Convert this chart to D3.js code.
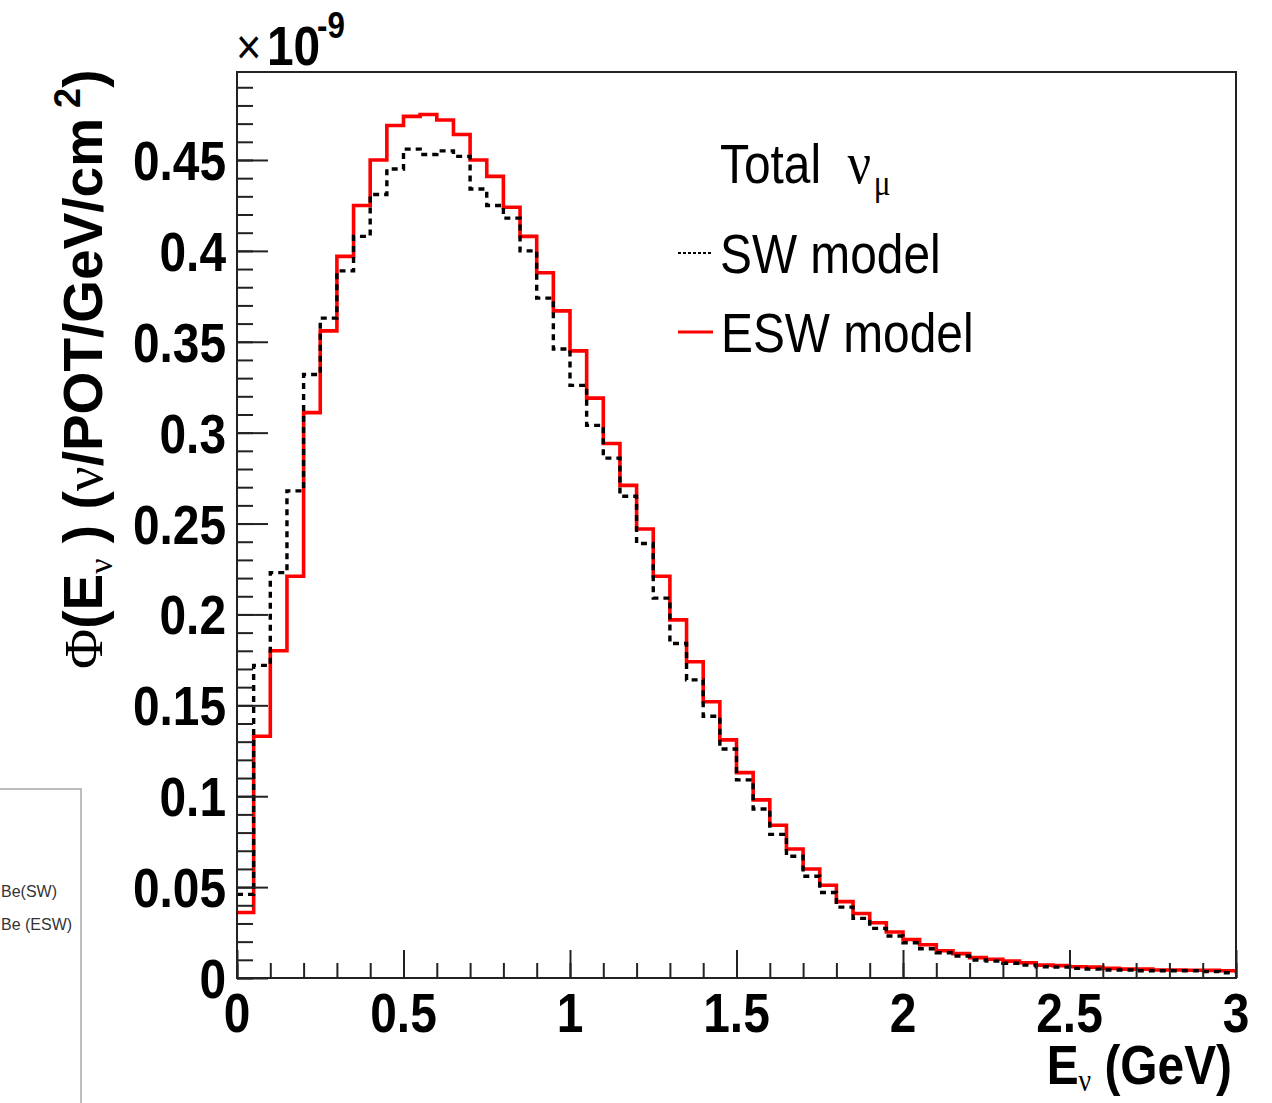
<!DOCTYPE html>
<html>
<head>
<meta charset="utf-8">
<script src="https://cdn.jsdelivr.net/npm/d3@7"></script>
<style>
  html, body { margin: 0; padding: 0; background: #fff; }
  svg { display: block; }
</style>
</head>
<body>
<svg id="chart" width="1272" height="1103"></svg>
<script>
// ---- Data (flux in units of 1e-9 nu/POT/GeV/cm^2) ----
const binLowEdges = [0,0.05,0.1,0.15,0.2,0.25,0.3,0.35,0.4,0.45,0.5,0.55,0.6,0.65,0.7,0.75,0.8,0.85,0.9,0.95,
  1.0,1.05,1.1,1.15,1.2,1.25,1.3,1.35,1.4,1.45,1.5,1.55,1.6,1.65,1.7,1.75,1.8,1.85,1.9,1.95,
  2.0,2.05,2.1,2.15,2.2,2.25,2.3,2.35,2.4,2.45,2.5,2.55,2.6,2.65,2.7,2.75,2.8,2.85,2.9,2.95];
const xUpperEdge = 3.0;

const swModel = [0.046,0.172,0.223,0.268,0.332,0.363,0.389,0.408,0.431,0.445,
  0.456,0.453,0.455,0.452,0.434,0.425,0.418,0.400,0.374,0.346,
  0.326,0.304,0.286,0.265,0.239,0.209,0.184,0.164,0.144,0.126,
  0.109,0.093,0.079,0.067,0.056,0.047,0.039,0.0328,0.0273,0.0231,
  0.0194,0.0161,0.0139,0.0121,0.0099,0.0093,0.0081,0.0071,0.0062,0.0060,
  0.0053,0.0049,0.0044,0.0044,0.0040,0.0040,0.0040,0.0040,0.0035,0.0029];

const eswModel = [0.036,0.133,0.180,0.221,0.311,0.356,0.397,0.425,0.450,0.469,
  0.474,0.475,0.472,0.464,0.450,0.441,0.424,0.408,0.388,0.367,
  0.345,0.319,0.294,0.271,0.247,0.221,0.197,0.174,0.152,0.131,
  0.113,0.098,0.084,0.071,0.060,0.051,0.042,0.0355,0.0304,0.0253,
  0.0212,0.0183,0.0150,0.0134,0.0112,0.0103,0.0093,0.0084,0.0071,0.0068,
  0.0062,0.0060,0.0053,0.0049,0.0049,0.0044,0.0044,0.0043,0.0042,0.0040];

const xTickValues = [0, 0.5, 1, 1.5, 2, 2.5, 3];
const xTickLabels = ["0", "0.5", "1", "1.5", "2", "2.5", "3"];
const yTickValues = [0, 0.05, 0.1, 0.15, 0.2, 0.25, 0.3, 0.35, 0.4, 0.45];
const yTickLabels = ["0", "0.05", "0.1", "0.15", "0.2", "0.25", "0.3", "0.35", "0.4", "0.45"];
const yMax = 0.4984;

// ---- Layout ----
const svg = d3.select("#chart");
const L = 237, R = 1236, T = 72, B = 978;
const SX = 0.87;   // horizontal squeeze of text as in the reference
const FS = 55;

const x = d3.scaleLinear().domain([0, xUpperEdge]).range([L, R]);
const y = d3.scaleLinear().domain([0, yMax]).range([B, T]);

// Partial legend fragment at left edge
svg.append("rect").attr("x", -10).attr("y", 789).attr("width", 91).attr("height", 330)
  .attr("fill", "#fff").attr("stroke", "#a8a8a8").attr("stroke-width", 1.5);
svg.append("text").attr("x", 1).attr("y", 897).attr("font-family", "Liberation Sans, Arial, sans-serif")
  .attr("font-size", 16).attr("fill", "#333").text("Be(SW)");
svg.append("text").attr("x", 1).attr("y", 930).attr("font-family", "Liberation Sans, Arial, sans-serif")
  .attr("font-size", 16).attr("fill", "#333").text("Be (ESW)");

// Histograms
const pts = (vals) => vals.map((v, i) => [binLowEdges[i], v]).concat([[xUpperEdge, vals[vals.length - 1]]]);
const line = d3.line().x(d => x(d[0])).y(d => y(d[1])).curve(d3.curveStepAfter);

svg.append("path").datum(pts(eswModel)).attr("d", line)
  .attr("fill", "none").attr("stroke", "#ff0000").attr("stroke-width", 3.6);
svg.append("path").datum(pts(swModel)).attr("d", line)
  .attr("fill", "none").attr("stroke", "#000").attr("stroke-width", 3.4)
  .attr("stroke-dasharray", "6,5");

// Frame
svg.append("rect").attr("x", L).attr("y", T).attr("width", R - L).attr("height", B - T)
  .attr("fill", "none").attr("stroke", "#222").attr("stroke-width", 2);

// Axes ticks (inward)
const yMinor = d3.range(0, 50).map(i => i / 100);
const xMinor = d3.range(0, 31).map(i => i / 10);
function styleAxis(g) {
  g.select(".domain").remove();
  g.selectAll(".tick line").attr("stroke", "#222").attr("stroke-width", 2);
  g.selectAll(".tick text").remove();
}
svg.append("g").attr("transform", `translate(${L},0)`)
  .call(d3.axisLeft(y).tickValues(yMinor).tickSize(-16).tickFormat("")).call(styleAxis);
svg.append("g").attr("transform", `translate(${L},0)`)
  .call(d3.axisLeft(y).tickValues(yTickValues).tickSize(-31).tickFormat("")).call(styleAxis);
svg.append("g").attr("transform", `translate(0,${B})`)
  .call(d3.axisBottom(x).tickValues(xMinor).tickSize(-15).tickFormat("")).call(styleAxis);
svg.append("g").attr("transform", `translate(0,${B})`)
  .call(d3.axisBottom(x).tickValues(xTickValues).tickSize(-28).tickFormat("")).call(styleAxis);

// Tick labels
const sans = "Liberation Sans, Arial, Helvetica, sans-serif";
const serif = "Liberation Serif, Times New Roman, serif";
function sqText(px, py, anchor) {
  return svg.append("text").attr("transform", `translate(${px},${py}) scale(${SX},1)`)
    .attr("text-anchor", anchor).attr("font-family", sans);
}
yTickValues.forEach((v, i) => {
  sqText(226, y(v) + 20, "end").attr("font-size", FS).attr("font-weight", "bold").text(yTickLabels[i]);
});
xTickValues.forEach((v, i) => {
  sqText(x(v), 1032, "middle").attr("font-size", FS).attr("font-weight", "bold").text(xTickLabels[i]);
});

// x10^-9
sqText(236, 64, "start").attr("font-size", 50).text("\u00d7");
sqText(267, 65, "start").attr("font-size", FS).attr("font-weight", "bold").text("10");
sqText(317, 38, "start").attr("font-size", 36).attr("font-weight", "bold").text("-9");

// X axis title
{
  const t = sqText(1232, 1084, "end").attr("font-size", FS).attr("font-weight", "bold");
  t.append("tspan").text("E");
  t.append("tspan").attr("font-family", serif).attr("font-weight", "normal").attr("font-size", 32).attr("dy", 7).text("\u03bd");
  t.append("tspan").attr("dy", -7).text(" (GeV)");
}

// Y axis title (rotated)
{
  const t = svg.append("text").attr("transform", `translate(102,669) rotate(-90)`)
    .attr("font-family", sans).attr("font-size", FS).attr("font-weight", "bold");
  t.append("tspan").attr("font-family", serif).attr("font-weight", "normal").text("\u03a6");
  t.append("tspan").text("(E");
  t.append("tspan").attr("font-family", serif).attr("font-weight", "normal").attr("font-size", 34).attr("dy", 10).text("\u03bd");
  t.append("tspan").attr("dy", -10).text(" ) (");
  t.append("tspan").attr("font-family", serif).attr("font-weight", "normal").text("\u03bd");
  t.append("tspan").text("/POT/GeV/cm");
  t.append("tspan").attr("font-size", 36).attr("dy", -22).text(" 2");
  t.append("tspan").attr("dy", 22).text(")");
}

// Legend
{
  const t = sqText(720, 183, "start").attr("font-size", FS);
  t.append("tspan").text("Total\u00a0\u00a0");
  t.append("tspan").attr("font-family", serif).attr("font-size", 60).text("\u03bd");
  t.append("tspan").attr("font-family", serif).attr("font-size", 36).attr("dy", 12).attr("dx", 3).text("\u03bc");
}
svg.append("line").attr("x1", 678).attr("x2", 712).attr("y1", 253).attr("y2", 253)
  .attr("stroke", "#000").attr("stroke-width", 2).attr("stroke-dasharray", "3,2");
sqText(720, 273, "start").attr("font-size", FS).text("SW model");
svg.append("line").attr("x1", 678).attr("x2", 713).attr("y1", 332).attr("y2", 332)
  .attr("stroke", "#ff0000").attr("stroke-width", 3);
sqText(721, 352, "start").attr("font-size", FS).text("ESW model");
</script>
</body>
</html>
